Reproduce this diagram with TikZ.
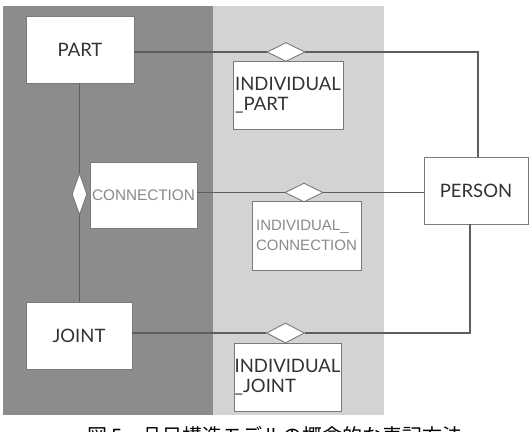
\documentclass[tikz,border=0pt]{standalone}
\usepackage{fontspec}
\setmainfont{Lato}
\newfontfamily\arialf{Liberation Sans}
\newfontfamily\cjk{Noto Sans CJK JP}
\usetikzlibrary{shapes.geometric}
\definecolor{darkbg}{HTML}{8C8C8C}
\definecolor{lightbg}{HTML}{D3D3D3}
\definecolor{linec}{HTML}{5E5E5E}
\definecolor{boxc}{HTML}{7A7A7A}
\definecolor{txtc}{HTML}{333333}
\definecolor{greytxt}{HTML}{8A8A8A}
\tikzset{
  entity/.style={draw=boxc, line width=0.9pt, fill=white, inner sep=0pt, text=txtc,
    font=\fontsize{18.5}{20}\selectfont},
  rel/.style={draw=boxc, line width=0.9pt, fill=white, shape=diamond, inner sep=0pt},
  conn/.style={draw=linec, line width=1.3pt},
}
\begin{document}
\begin{tikzpicture}[x=1pt,y=-1pt]
\useasboundingbox (0,0) rectangle (532,431);
\clip (0,0) rectangle (532,431);
\fill[white] (0,0) rectangle (532,431);
\fill[darkbg] (3,6) rectangle (213,415);
\fill[lightbg] (213,6) rectangle (384,415);

% entity boxes
\node[entity, minimum width=108pt, minimum height=67pt] (part) at (80,49.5) {PART};
\node[entity, minimum width=106pt, minimum height=67pt] (joint) at (79,335.5) {JOINT};
\node[entity, minimum width=104pt, minimum height=67pt] (person) at (476,190.5) {PERSON};
\node[entity, minimum width=107pt, minimum height=66pt, text=greytxt,
  font=\arialf\fontsize{15.3}{15.3}\selectfont] (connection) at (143.5,195) {CONNECTION};
\node[entity, minimum width=110pt, minimum height=68pt, align=left] (ipart) at (288,95)
  {INDIVIDUAL\\\_PART};
\node[entity, minimum width=109pt, minimum height=69pt, align=left, text=greytxt,
  font=\arialf\fontsize{15}{20}\selectfont] (iconn) at (306.5,235.5)
  {INDIVIDUAL\_\\CONNECTION};
\node[entity, minimum width=107pt, minimum height=68pt, align=left] (ijoint) at (287.5,377)
  {INDIVIDUAL\\\_JOINT};

% relationship diamonds
\node[rel, minimum width=38pt, minimum height=19pt] (dP) at (286,52) {};
\node[rel, minimum width=38pt, minimum height=19pt] (dC) at (304,192.5) {};
\node[rel, minimum width=38pt, minimum height=20pt] (dJ) at (285.5,333) {};
\node[rel, minimum width=15pt, minimum height=42pt] (dV) at (79.5,194) {};

\coordinate (cP) at (478,52);
\coordinate (cJ) at (470,333);

% connectors
\draw[conn] (part.east |- dP) -- (dP.west);
\draw[conn] (dP.east) -- (cP) -- (cP |- person.north);
\draw[conn] (connection.east |- dC) -- (dC.west);
\draw[conn] (dC.east) -- (dC -| person.west);
\draw[conn] (joint.east |- dJ) -- (dJ.west);
\draw[conn] (dJ.east) -- (cJ) -- (cJ |- person.south);
\draw[conn] (part.south -| dV) -- (dV.north);
\draw[conn] (dV.south) -- (dV |- joint.north);

% caption (cut off at the bottom edge, as in the source)
\node[anchor=base, inner sep=0pt, font=\cjk\fontsize{20}{20}\selectfont] (caption) at (275,443)
  {図 5　品目構造モデルの概念的な表記方法};
\end{tikzpicture}
\end{document}
